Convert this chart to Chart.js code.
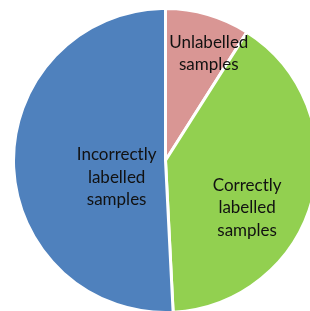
<!DOCTYPE html>
<html>
<head>
<meta charset="utf-8">
<script src="https://cdn.jsdelivr.net/npm/chart.js@4.4.0/dist/chart.umd.min.js"></script>
<style>
  html, body { margin: 0; padding: 0; background: #fff; width: 310px; height: 311px; overflow: hidden; }
  #wrap { position: absolute; left: 12px; top: 7px; width: 307px; height: 307px; }
</style>
</head>
<body>
<div id="wrap"><canvas id="pie" width="307" height="307"></canvas></div>
<script>
// slice order follows the picture, clockwise from 12 o'clock
const labels = ['Unlabelled samples', 'Correctly labelled samples', 'Incorrectly labelled samples'];
const shares = [9, 40.2, 50.8];
const colors = ['#D99694', '#92D050', '#4F81BD'];

// where each label sits: angle from 12 o'clock (deg) and fraction of the radius
const labelSpots = [[22, 0.76], [120, 0.62], [251, 0.34]];

const sliceLabels = {
    id: 'sliceLabels',
    afterDatasetsDraw(chart) {
        const ctx = chart.ctx;
        const arcs = chart.getDatasetMeta(0).data;
        ctx.save();
        ctx.font = '17px Lato, "Open Sans", sans-serif';
        ctx.fillStyle = '#111';
        ctx.textAlign = 'center';
        ctx.textBaseline = 'middle';
        arcs.forEach((arc, i) => {
            const [deg, f] = labelSpots[i];
            const a = deg * Math.PI / 180;
            const x = arc.x + Math.sin(a) * arc.outerRadius * f;
            const y = arc.y - Math.cos(a) * arc.outerRadius * f;
            const words = labels[i].split(' ');
            const lineH = 22.5;
            const y0 = y - (words.length - 1) * lineH / 2;
            words.forEach((w, k) => ctx.fillText(w, x, y0 + k * lineH));
        });
        ctx.restore();
    }
};

new Chart(document.getElementById('pie').getContext('2d'), {
    type: 'pie',
    data: {
        labels: labels,
        datasets: [{
            data: shares,
            backgroundColor: colors,
            borderColor: '#fff',
            borderWidth: 3,
            hoverBorderWidth: 3
        }]
    },
    options: {
        responsive: false,
        animation: false,
        events: [],
        layout: { padding: 0 },
        plugins: {
            legend: { display: false },
            tooltip: { enabled: false }
        }
    },
    plugins: [sliceLabels]
});
</script>
</body>
</html>
